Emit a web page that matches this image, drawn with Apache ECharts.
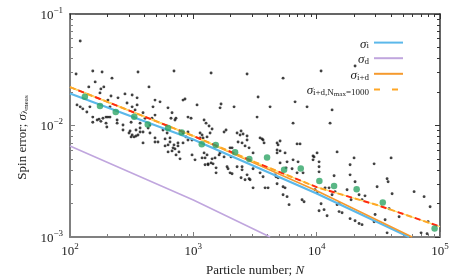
<!DOCTYPE html>
<html><head><meta charset="utf-8">
<script src="https://cdn.jsdelivr.net/npm/echarts@6/dist/echarts.min.js"></script>
<style>html,body{margin:0;padding:0;background:#fff}#c{width:463px;height:278px}</style>
</head><body><div id="c"></div>
<script>
// ---- data ----
const blackPoints = [
[121,0.0573],[112,0.029],[153,0.0308],[182,0.0302],[219,0.0266],[356,0.0302],[697,0.0308],[142,0.0222],[160,0.0246],[178,0.0213],[175,0.0196],[188,0.0222],[245,0.0177],[319,0.0188],[350,0.0177],[437,0.0222],[279,0.0192],[215,0.0184],[114,0.0153],[121,0.0147],[127,0.0141],[145,0.0147],[137,0.0132],[203,0.0169],[211,0.0147],[290,0.0159],[319,0.0147],[337,0.0138],[350,0.0153],[471,0.0147],[489,0.0169],[537,0.0163],[623,0.0144],[825,0.0169],[856,0.0173],
[153,0.0119],[166,0.0112],[185,0.0116],[196,0.0119],[203,0.0119],[211,0.0119],[241,0.0112],[269,0.0101],[153,0.0107],[172,0.0114],[178,0.0109],[196,0.0105],[199,0.0097],[241,0.0105],[325,0.0119],[391,0.013],[406,0.0116],[313,0.0107],[370,0.0105],[489,0.0124],[462,0.0116],[659,0.0116],[710,0.0112],[672,0.013],[723,0.0116],
[269,0.00912],[307,0.00893],[343,0.00912],[370,0.0095],[391,0.00875],[430,0.0095],[445,0.0101],[301,0.00857],[319,0.00823],[331,0.0079],[356,0.00823],[370,0.00875],[445,0.00857],[313,0.0079],[343,0.00806],[391,0.00698],[489,0.00712],[517,0.00712],[590,0.00758],[647,0.00712],[624,0.0067],[710,0.00617],[751,0.00698],[872,0.0079],[825,0.00857],[905,0.00875],[590,0.00656],[697,0.0067],[751,0.00656],[624,0.0058],[672,0.00592],[765,0.0058],[780,0.00502],[976,0.00545],[489,0.00774],[568,0.00912],[613,0.00857],
[1393,0.0296],[2727,0.029],[5341,0.0266],[3349,0.018],[1072,0.0153],[1678,0.0156],[1647,0.0144],[2139,0.0147],[4190,0.0147],[6681,0.0163],[8357,0.0147],[3287,0.0119],[6436,0.0105],[905,0.0119],[958,0.0116],[1222,0.0112],[1268,0.0105],[1341,0.0099],[1419,0.00931],[1842,0.00912],[1775,0.00875],[2438,0.00893],[2531,0.0084],[3476,0.00774],[3676,0.00742],[1177,0.00823],[1134,0.00774],[2305,0.00712],[2484,0.00698],[2727,0.00742],[5050,0.00727],[4775,0.00698],[6935,0.00684],[7334,0.00684],[2061,0.0063],[647,0.00774],[905,0.00742],[685,0.0063],[724,0.00545],[825,0.00698],[976,0.00742],[1134,0.00857],[1199,0.00774],[1367,0.00857],[1292,0.0079],[1222,0.00568],[1292,0.00545],[1647,0.00568],[1419,0.00502],[1317,0.00453],[1393,0.00462],[1445,0.00453],[1529,0.00376],[2023,0.00523],[1877,0.00426],[1985,0.00376],[2263,0.00857],[2393,0.00823],[2727,0.00806],[2263,0.00426],[2484,0.00426],[2484,0.004],[2727,0.00361],[2884,0.00326],[2627,0.00326],[3050,0.00276],[3608,0.00758],[3746,0.00698],[4865,0.0067],[4775,0.00568],[5050,0.00462],[4686,0.00347],[4865,0.0034],[5341,0.00282],[5341,0.00239],[5755,0.0023],[5973,0.00195],[6436,0.00492],[6317,0.00409],[7613,0.00216],[7902,0.00207],[3676,0.00347],[1032,0.00492],[1177,0.00512],[1245,0.00512],[1245,0.00444],[1317,0.00444],[1500,0.00512],[1529,0.00417],[1617,0.00545],[1775,0.00523],[1985,0.0063],[2627,0.00656],[2831,0.0063],[3050,0.00568],[1912,0.00409],[2061,0.00369],[2438,0.0034],[2831,0.00333],[3050,0.00409],[3476,0.00376],[3816,0.00276],[4036,0.00276],[4775,0.00604],[5050,0.00592],[5544,0.00568],[5755,0.00472],[5648,0.00417],[4775,0.003],[7065,0.00472],[6935,0.00376],[7756,0.00376],[9346,0.00534],[9346,0.00492],[4600,0.00361],[5544,0.00276],
[10856,0.0308],[20480,0.0342],[13334,0.0138],[12845,0.0105],[10075,0.00568],[9522,0.00523],[10458,0.00472],[10458,0.00426],[10458,0.00384],[14640,0.0058],[13842,0.00354],[11699,0.00276],[12607,0.00276],[9702,0.00265],[10075,0.00249],[13334,0.00239],[14103,0.00255],[10856,0.00199],[10458,0.00172],[11482,0.00176],[12144,0.00155],[14640,0.00195],[15197,0.00199],[15197,0.00169],[16070,0.00165],[17640,0.00265],[18660,0.00361],[18660,0.00444],[20100,0.00512],[20480,0.00313],[22070,0.00239],[23330,0.00216],[24660,0.00234],[19010,0.00216],[18660,0.00146],[20480,0.0014],[22070,0.00132],[23330,0.00129],[29220,0.00453],[30900,0.00282],[29220,0.00137],[29770,0.00159],[37240,0.00333],[37940,0.00313],[40890,0.00244],[38660,0.00179],[35870,0.00143],[40130,0.00512],[46590,0.00152],[37240,0.00109],[61660,0.00255],[74300,0.0023],[83100,0.00187],[80080,0.00137],[70250,0.00109],[78600,0.00107]
];
const greenN = [132,175,235,332,427,624,805,1170,1520,2180,2845,3960,5445,7430,10520,13840,21090,34360,90400];
const greenSigma = [0.0181,0.01496,0.0132,0.012,0.0102,0.0095,0.00865,0.00678,0.00668,0.00575,0.00501,0.00517,0.00402,0.00411,0.00318,0.00286,0.00268,0.00204,0.00119];

const sigmaI_N = [100, 1000, 10000, 56100];
const sigmaI_S = [0.0194, 0.00749, 0.00246, 0.001];
const sigmaD_N = [100, 1000, 4190];
const sigmaD_S = [0.00655, 0.00215, 0.001];
const sigmaID_N = [100, 1000, 10000, 59400];
const sigmaID_S = [0.0221, 0.00805, 0.0026, 0.001];
const sigmaIDmax_N = [100, 1000, 3160, 10000, 31600, 100000];
const sigmaIDmax_S = [0.0221, 0.00805, 0.0047, 0.0028, 0.00192, 0.00124];

const xTicks = [100, 1000, 10000, 100000];
const yTicks = [0.001, 0.01, 0.1];

// ---- chart ----
const F = '"Liberation Serif","DejaVu Serif",serif';
const pair = (a, b) => a.map((v, i) => [v, b[i]]);
const fmtLog = v => {
  const e = Math.round(Math.log10(v));
  return '{b|10}{e|' + (e < 0 ? '\u2212' + (-e) : e) + '}';
};
const tickRich = {
  b: {fontFamily: F, fontSize: 13, lineHeight: 16, color: '#222', verticalAlign: 'bottom'},
  e: {fontFamily: F, fontSize: 9, lineHeight: 8, color: '#222', verticalAlign: 'top'}
};
const txtRich = {
  t: {fontFamily: F, fontSize: 13, lineHeight: 16, color: '#222', verticalAlign: 'bottom'},
  s: {fontFamily: F, fontSize: 13, lineHeight: 16, fontStyle: 'italic', color: '#222', verticalAlign: 'bottom'},
  sub: {fontFamily: F, fontSize: 9, lineHeight: 7, color: '#222', verticalAlign: 'bottom'},
  ss: {fontFamily: F, fontSize: 7, lineHeight: 4, color: '#222', verticalAlign: 'bottom'}
};
const legendText = {
  'σi': '{s|σ}{sub|i}',
  'σd': '{s|σ}{sub|d}',
  'σi+d': '{s|σ}{sub|i+d}',
  'σi+d,Nmax=1000': '{s|σ}{sub|i+d,N}{ss|max}{sub|=1000}'
};
const axBase = (pos, main) => ({
  type: 'log', logBase: 10, position: pos,
  axisLine: {show: true, onZero: false, lineStyle: {color: main ? '#808080' : '#333', width: main ? 2 : 1.5}},
  axisTick: {show: true, inside: true, length: 5, lineStyle: {color: main ? '#808080' : '#333', width: 1}},
  minorTick: {show: true, splitNumber: 9, length: 3, lineStyle: {color: main ? '#808080' : '#333', width: 1}},
  splitLine: {show: false}, minorSplitLine: {show: false}
});

const cOrange = '#f59a2e', cBlue = '#5bb8ea', cLav = '#c0a6de', cDash = '#ffa726', cRed = '#ff2a10';

const chart = echarts.init(document.getElementById('c'), null, {renderer: 'canvas'});
chart.setOption({
  animation: false,
  backgroundColor: '#fff',
  grid: {left: 70, right: 23, top: 14, bottom: 41, containLabel: false, outerBoundsMode: 'none'},
  xAxis: [
    Object.assign(axBase('bottom', true), {
      min: xTicks[0], max: xTicks[xTicks.length - 1],
      axisLabel: {formatter: fmtLog, rich: tickRich, margin: 5},
      name: '{t|Particle number; }{s|N}', nameLocation: 'middle', nameGap: 24,
      nameTextStyle: {rich: txtRich}
    }),
    Object.assign(axBase('top', false), {
      min: xTicks[0], max: xTicks[xTicks.length - 1], axisLabel: {show: false}
    })
  ],
  yAxis: [
    Object.assign(axBase('left', true), {
      min: yTicks[0], max: yTicks[yTicks.length - 1],
      axisLabel: {formatter: fmtLog, rich: tickRich, margin: 7},
      name: '{t|Spin error; }{s|σ}{sub|λ}{ss|meas}', nameLocation: 'middle', nameGap: 34,
      nameTextStyle: {rich: txtRich, padding: [0, 24, 0, 0]}
    }),
    Object.assign(axBase('right', false), {
      min: yTicks[0], max: yTicks[yTicks.length - 1], axisLabel: {show: false}
    })
  ],
  legend: {
    data: ['σi', 'σd', 'σi+d', 'σi+d,Nmax=1000'],
    orient: 'vertical', align: 'right', right: 54, top: 32,
    itemWidth: 29, itemHeight: 14, itemGap: 2,
    itemStyle: {color: 'transparent', borderWidth: 0, opacity: 0},
    formatter: n => legendText[n],
    textStyle: {rich: txtRich}
  },
  series: [
    {type: 'scatter', name: 'samples', data: blackPoints, symbolSize: 2.9,
     itemStyle: {color: '#111'}, z: 2, silent: true},
    {type: 'line', name: 'σd', data: pair(sigmaD_N, sigmaD_S), symbol: 'none',
     itemStyle: {color: cLav}, lineStyle: {color: cLav, width: 1.6}, z: 3},
    {type: 'line', name: 'σi', data: pair(sigmaI_N, sigmaI_S), symbol: 'none',
     itemStyle: {color: cBlue}, lineStyle: {color: cBlue, width: 2.2}, z: 3},
    {type: 'line', name: 'σi+d', data: pair(sigmaID_N, sigmaID_S), symbol: 'none',
     itemStyle: {color: cOrange}, lineStyle: {color: cOrange, width: 1.6}, z: 4},
    {type: 'line', name: 'dashBase', data: pair(sigmaIDmax_N, sigmaIDmax_S), symbol: 'none',
     lineStyle: {color: '#ffe070', width: 1.4}, z: 5},
    {type: 'line', name: 'σi+d,Nmax=1000', data: pair(sigmaIDmax_N, sigmaIDmax_S), symbol: 'none',
     itemStyle: {color: cDash}, lineStyle: {color: cDash, width: 2, type: [6, 12]}, z: 5},
    {type: 'line', name: 'dashRed', data: pair(sigmaIDmax_N, sigmaIDmax_S), symbol: 'none',
     lineStyle: {color: cRed, width: 2, type: [6, 12], dashOffset: -9}, z: 5},
    {type: 'scatter', name: 'mean', data: pair(greenN, greenSigma), symbolSize: 6.5,
     itemStyle: {color: '#2fa566'}, z: 6}
  ]
});
</script></body></html>
